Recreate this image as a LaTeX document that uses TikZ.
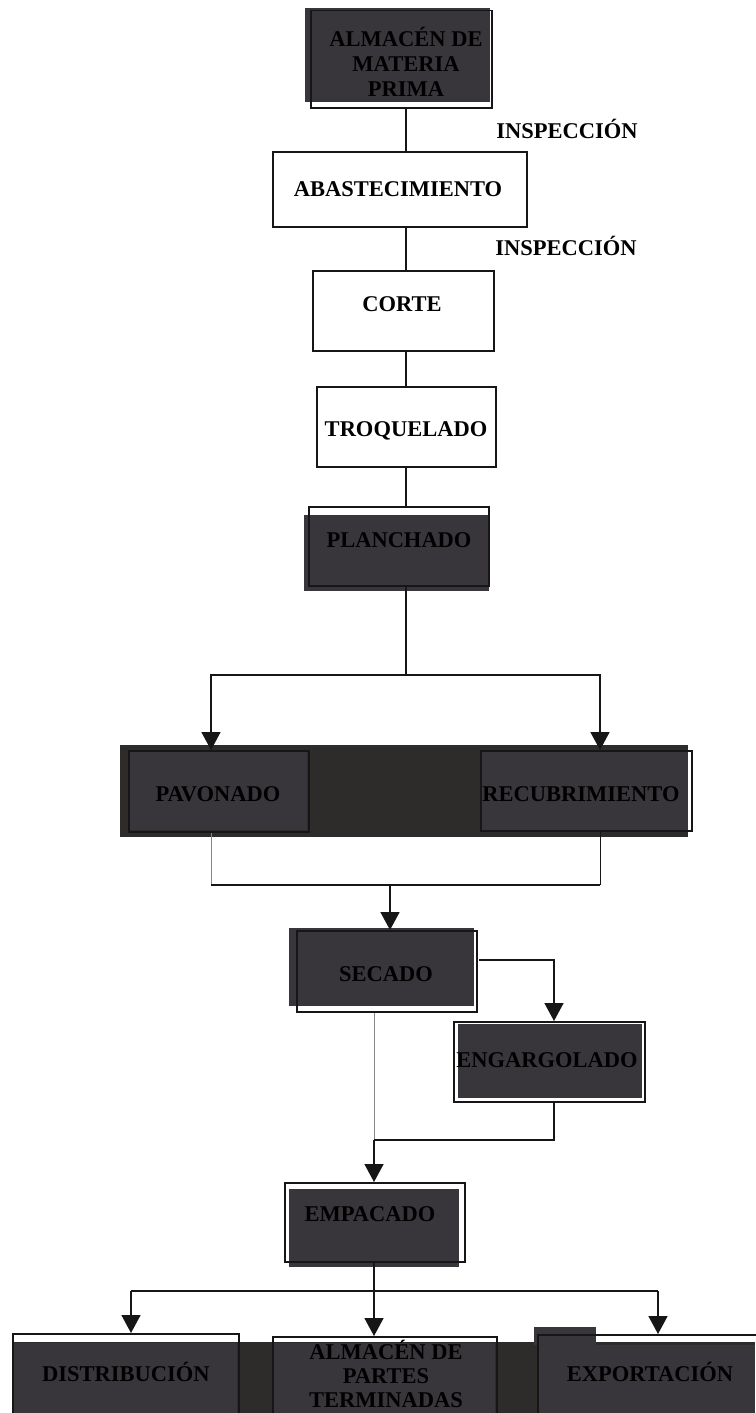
\documentclass[tikz,border=0pt]{standalone}
\usepackage{fontspec}
\setmainfont{Liberation Serif}
\usetikzlibrary{arrows.meta}
\definecolor{panel}{RGB}{57,54,59}
\definecolor{band}{RGB}{46,43,43}
\definecolor{rule}{RGB}{22,22,22}
\definecolor{faint}{RGB}{135,135,135}

\begin{document}
\begin{tikzpicture}[x=1pt,y=-1pt,
  box/.style={draw=rule, line width=1.5pt, inner sep=0pt, anchor=north west},
  lbl/.style={font=\bfseries\fontsize{22.5}{23}\selectfont, text=black, inner sep=0pt, anchor=base, align=center},
  link/.style={draw=rule, line width=1.6pt},
  faintlink/.style={draw=faint, line width=0.8pt},
  tip/.style={-{Triangle[width=19pt,length=18pt]}},
]
\useasboundingbox[fill=white] (0,0) rectangle (755,1413);

% dark panels behind the shaded stations
\fill[panel] (305,8) rectangle (490,102);
\fill[panel] (304,515) rectangle (489,591);
\fill[band] (120,745) rectangle (688,837);
\fill[panel] (129,751) rectangle (307,830);
\fill[panel] (481,751) rectangle (688,830);
\fill[panel] (289,928) rectangle (474,1006);
\fill[panel] (458,1024) rectangle (642,1098);
\fill[panel] (289,1189) rectangle (459,1267);
\fill[band] (13,1342) rectangle (755,1413);
\fill[panel] (534,1327) rectangle (596,1345);
\fill[panel] (14,1343) rectangle (237,1413);
\fill[panel] (273,1343) rectangle (495,1413);
\fill[panel] (538,1345) rectangle (755,1413);

% station outlines
\node[box, minimum width=181pt, minimum height=97pt] (mp) at (310,10) {};
\node[box, minimum width=254pt, minimum height=75pt] (abast) at (272,151) {};
\node[box, minimum width=181pt, minimum height=80pt] (corte) at (312,270) {};
\node[box, minimum width=179pt, minimum height=80pt] (troq) at (316,386) {};
\node[box, minimum width=180pt, minimum height=79pt] (planch) at (308,506) {};
\node[box, minimum width=180pt, minimum height=81pt] (pav) at (128,750) {};
\node[box, minimum width=211pt, minimum height=80pt] (recub) at (480,750) {};
\node[box, minimum width=180pt, minimum height=81pt] (sec) at (296,930) {};
\node[box, minimum width=191pt, minimum height=80pt] (eng) at (453,1021) {};
\node[box, minimum width=180pt, minimum height=79pt] (emp) at (284,1182) {};
\node[box, minimum width=226pt, minimum height=100pt] (dist) at (12,1333) {};
\node[box, minimum width=224pt, minimum height=100pt] (apt) at (272,1336) {};
\node[box, minimum width=225pt, minimum height=100pt] (expo) at (537,1334) {};

% main spine
\coordinate (spine) at (406,0);
\draw[link] (mp.south -| spine) -- (abast.north -| spine);
\draw[link] (abast.south -| spine) -- (corte.north -| spine);
\draw[link] (corte.south -| spine) -- (troq.north -| spine);
\draw[link] (troq.south -| spine) -- (planch.north -| spine);

% split towards the two finishing lines
\coordinate (split) at (406,675);
\coordinate (splitL) at (211,675);
\coordinate (splitR) at (600,675);
\draw[link] (planch.south -| split) -- (split);
\draw[link,tip] (split) -- (splitL) -- (pav.north -| splitL);
\draw[link,tip] (split) -- (splitR) -- (recub.north -| splitR);

% rejoin into drying
\coordinate (joinL) at (211,885);
\coordinate (joinR) at (600,885);
\coordinate (join) at (390,885);
\draw[faintlink] (pav.south -| joinL) -- (joinL);
\draw[link, line width=1pt] (recub.south -| joinR) -- (joinR);
\draw[link] (joinL) -- (joinR);
\draw[link,tip] (join) -- (sec.north -| join);

% side branch through seaming
\coordinate (sideA) at (479,960);
\coordinate (sideB) at (554,960);
\draw[link,tip] (sideA) -- (sideB) -- (eng.north -| sideB);
\coordinate (back) at (374,1140);
\coordinate (backR) at (554,1140);
\draw[faintlink] (sec.south -| back) -- (back);
\draw[link] (eng.south -| backR) -- (backR) -- (back);
\draw[link,tip] (back) -- (emp.north -| back);

% fan out to the destinations
\coordinate (fan) at (374,1291);
\coordinate (fanL) at (131,1291);
\coordinate (fanR) at (658,1291);
\draw[link] (emp.south -| fan) -- (fan);
\draw[link] (fanL) -- (fanR);
\draw[link,tip] (fanL) -- (dist.north -| fanL);
\draw[link,tip] (fan) -- (apt.north -| fan);
\draw[link,tip] (fanR) -- (expo.north -| fanR);

% labels (multi-line labels sit on the baseline of their last line)
\node[lbl, font=\bfseries\fontsize{22.5}{25}\selectfont] (mp-t) at (406,96) {ALMACÉN DE\\MATERIA\\PRIMA};
\node[lbl] (insp1) at (567,138) {INSPECCIÓN};
\node[lbl] (abast-t) at (398,196) {ABASTECIMIENTO};
\node[lbl] (insp2) at (566,255) {INSPECCIÓN};
\node[lbl] (corte-t) at (402,311) {CORTE};
\node[lbl] (troq-t) at (406,436) {TROQUELADO};
\node[lbl] (planch-t) at (399,547) {PLANCHADO};
\node[lbl] (pav-t) at (218,801) {PAVONADO};
\node[lbl] (recub-t) at (581,801) {RECUBRIMIENTO};
\node[lbl] (sec-t) at (386,981) {SECADO};
\node[lbl] (eng-t) at (547,1067) {ENGARGOLADO};
\node[lbl] (emp-t) at (370,1221) {EMPACADO};
\node[lbl] (dist-t) at (126,1381) {DISTRIBUCIÓN};
\node[lbl, font=\bfseries\fontsize{22.5}{24}\selectfont] (apt-t) at (386,1407) {ALMACÉN DE\\PARTES\\TERMINADAS};
\node[lbl] (expo-t) at (650,1381) {EXPORTACIÓN};
\end{tikzpicture}
\end{document}
